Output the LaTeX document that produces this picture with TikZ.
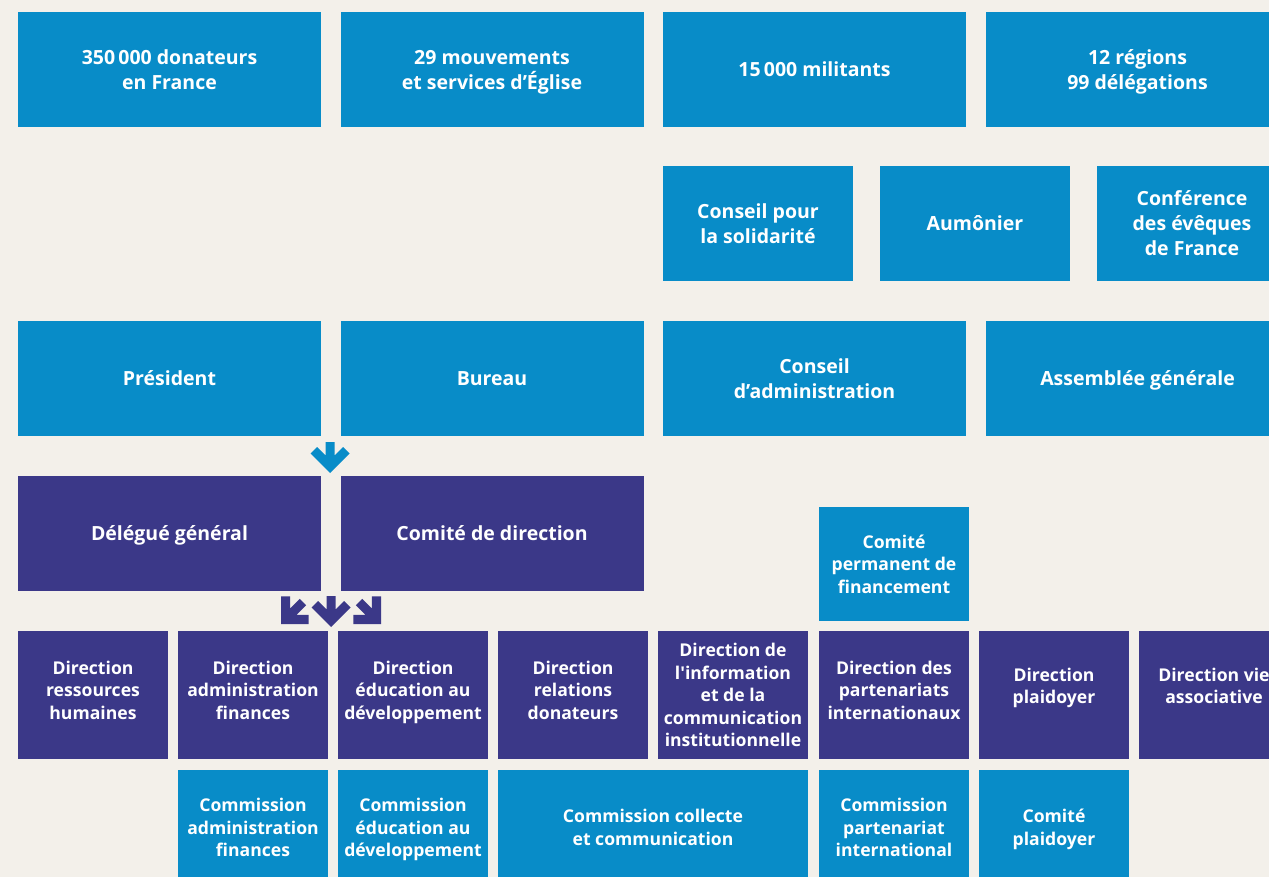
\documentclass[tikz,border=0pt]{standalone}
\usepackage{fontspec}
\setmainfont{Open Sans}
\definecolor{paper}{RGB}{243,240,234}
\definecolor{sky}{RGB}{8,140,200}
\definecolor{violet}{RGB}{59,56,136}
\tikzset{
  box/.style={rectangle, inner sep=0pt, text=white, align=center, text depth=0pt,
    font=\bfseries\fontsize{19.5}{25}\selectfont},
  small/.style={font=\bfseries\fontsize{17.6}{22.5}\selectfont},
  widebox/.style={box, minimum width=303pt, minimum height=115pt},
  midbox/.style={box, minimum width=190pt, minimum height=115pt},
  unitbox/.style={box, small, minimum width=150pt, minimum height=128pt},
  lowbox/.style={box, small, minimum width=150pt, minimum height=115pt},
  % raise the text block of short directorate labels
  threeline/.style={text depth=10pt},
  twoline/.style={text depth=18.5pt},
  blue/.style={fill=sky},
  dark/.style={fill=violet},
  downarrow/.pic={\fill[pic actions] (0,0) -- (-19.5,-19.5) -- (-13,-26) -- (-4.5,-17.5)
      -- (-4.5,-31) -- (4.5,-31) -- (4.5,-17.5) -- (13,-26) -- (19.5,-19.5) -- cycle;},
}
\begin{document}
\begin{tikzpicture}[x=1pt, y=-1pt]
  \useasboundingbox (0,0) rectangle (1269,877);
  \fill[paper] (0,0) rectangle (1269,877);
  \clip (0,0) rectangle (1269,877);

  % membership row
  \node[widebox, blue] (donors)   at (169.5,69.5) {350\,000 donateurs\\en France};
  \node[widebox, blue] (mvts)     at (492,69.5)   {29 mouvements\\et services d’Église};
  \node[widebox, blue] (militants) at (814.5,69.5) {15\,000 militants};
  \node[widebox, blue] (regions)  at (1137.5,69.5) {12 régions\\99 délégations};

  % advisory bodies
  \node[midbox, blue] (conseilsol) at (758,223.5)  {Conseil pour\\la solidarité};
  \node[midbox, blue] (aumonier)   at (975,223.5)  {Aumônier};
  \node[midbox, blue] (cef)        at (1192,223.5) {Conférence\\des évêques\\de France};

  % governance
  \node[widebox, blue] (president) at (169.5,378.5) {Président};
  \node[widebox, blue] (bureau)    at (492,378.5)   {Bureau};
  \node[widebox, blue] (ca)        at (814.5,378.5) {Conseil\\d’administration};
  \node[widebox, blue] (ag)        at (1137.5,378.5) {Assemblée générale};

  % executive
  \node[widebox, dark] (delegue) at (169.5,533.5) {Délégué général};
  \node[widebox, dark] (codir)   at (492,533.5)   {Comité de direction};
  \node[box, small, blue, minimum width=150pt, minimum height=114pt] (cpf) at (894,564)
    {Comité\\permanent de\\financement};

  % directorates
  \node[unitbox, dark, threeline] (drh)  at (93,695)   {Direction\\ressources\\humaines};
  \node[unitbox, dark, threeline] (daf)  at (253,695)  {Direction\\administration\\finances};
  \node[unitbox, dark, threeline] (dead) at (413,695)  {Direction\\éducation au\\développement};
  \node[unitbox, dark, threeline] (drd)  at (573,695)  {Direction\\relations\\donateurs};
  \node[unitbox, dark] (dici) at (733,695)
    {Direction de\\l\textquotesingle information\\et de la\\communication\\institutionnelle};
  \node[unitbox, dark, threeline] (dpi)  at (894,695)  {Direction des\\partenariats\\internationaux};
  \node[unitbox, dark, twoline]   (dpl)  at (1054,695) {Direction\\plaidoyer};
  \node[unitbox, dark, twoline]   (dva)  at (1214,695) {Direction vie\\associative};

  % commissions
  \node[lowbox, blue] (caf)  at (253,827.5) {Commission\\administration\\finances};
  \node[lowbox, blue] (cead) at (413,827.5) {Commission\\éducation au\\développement};
  \node[lowbox, blue, minimum width=310pt] (ccc) at (653,827.5) {Commission collecte\\et communication};
  \node[lowbox, blue] (cpi)  at (894,827.5) {Commission\\partenariat\\international};
  \node[lowbox, blue] (cpl)  at (1054,827.5) {Comité\\plaidoyer};

  % arrows
  \pic[fill=sky] at (330,473) {downarrow};
  \pic[fill=violet, rotate=-45] at (281,624) {downarrow};
  \pic[fill=violet] at (331,627) {downarrow};
  \pic[fill=violet, rotate=45] at (381,624) {downarrow};
\end{tikzpicture}
\end{document}
